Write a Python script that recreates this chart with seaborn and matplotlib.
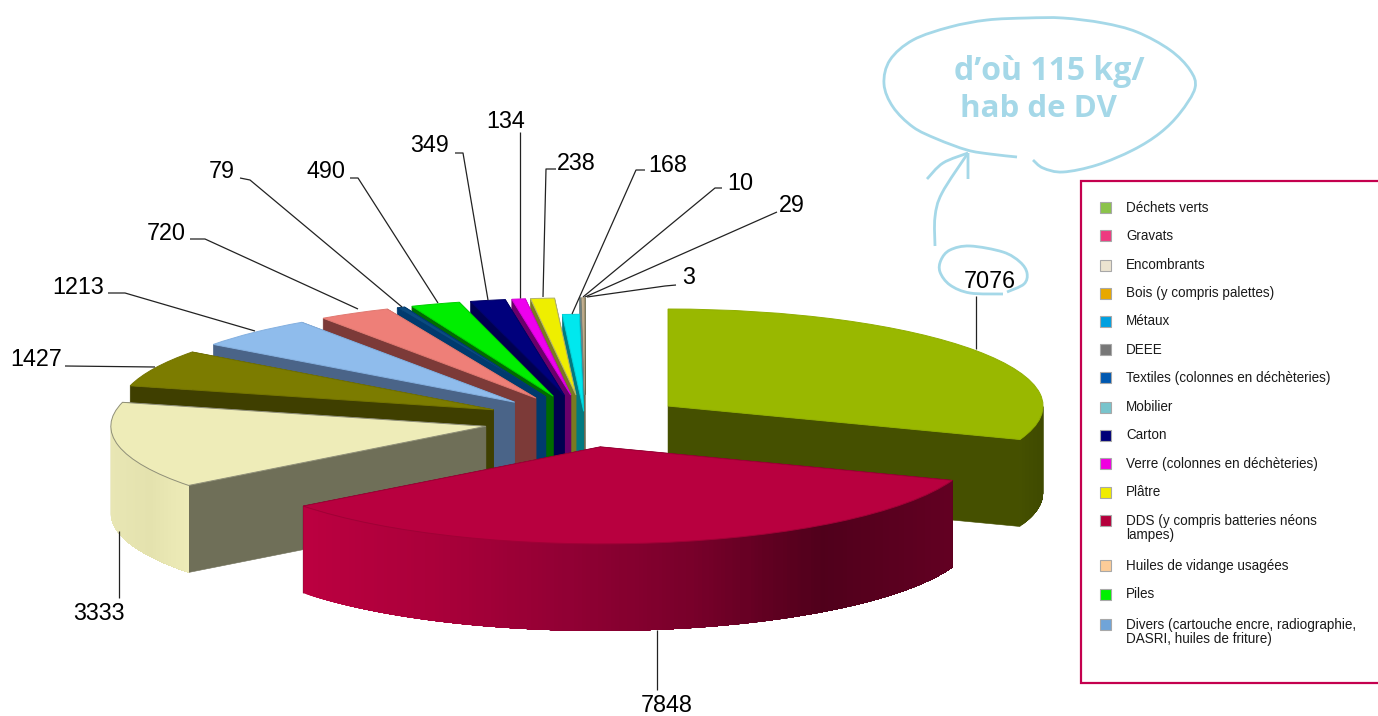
import numpy as np
import matplotlib
matplotlib.use("Agg")
import matplotlib.pyplot as plt
from matplotlib.patches import Polygon, Rectangle, PathPatch
from matplotlib.path import Path
import seaborn as sns

# ---- data ----
tonnages = [7076, 7848, 3333, 1427, 1213, 720, 79, 490, 349, 134, 238, 168, 10, 29, 3]
explode_fraction = [.27, .27, .27, .27, .27, .27, .27, .27, .27, .27, .27, .10, .27, .27, .27]
top_colors = ["#99b800", "#b8003f", "#eeecb8", "#7c7c00", "#8fbcec", "#ee7f78", "#0a4a80",
              "#00ee00", "#00007c", "#ee00ee", "#eeee00", "#00e8ee", "#90b0b0", "#c4b090", "#7a7a50"]
cut_colors = ["#455000", "#4a0018", "#6f6f58", "#3f3f00", "#4a6488", "#7c3a38", "#003a6e",
              "#006b00", "#000050", "#6a006a", "#7a7a20", "#007a80", "#506060", "#80704a", "#505030"]
edge_colors = ["#90ae00", "#a00036", "#8f8f78", "#747400", "#84b0e0", "#e07870", "#003a6e",
               "#00d000", "#000068", "#d800d8", "#b0b070", "#00d0d8", "#708080", "#a89878", "#606040"]
outer_ramps = {
    0: ["#455000", "#3f4a00"],
    1: ["#bb0040", "#aa003a", "#920034", "#78002a", "#50001b", "#620022"],
    2: ["#e8e6b4", "#e4e2ae", "#eeecb8"],
}
legend_labels = ["Déchets verts", "Gravats", "Encombrants", "Bois (y compris palettes)", "Métaux", "DEEE",
                 "Textiles (colonnes en déchèteries)", "Mobilier", "Carton", "Verre (colonnes en déchèteries)",
                 "Plâtre", "DDS (y compris batteries néons\nlampes)", "Huiles de vidange usagées", "Piles",
                 "Divers (cartouche encre, radiographie,\nDASRI, huiles de friture)"]
legend_colors = ["#8bc34a", "#ee3a80", "#ece4d0", "#e8a800", "#00a0e0", "#777777", "#0058b0", "#78c4cc",
                 "#000078", "#f000e0", "#f0ec00", "#b4003c", "#fccc98", "#00f000", "#70a4d8"]
bubble_line1 = "d’où 115 kg/"
bubble_line2 = "hab de DV"

# ---- layout ----
W, H = 1378, 716
CX, CY, RX, RY = 585.0, 421.0, 375.0, 97.0
DEPTH = 87.0 / RY

sns.set_theme(style="white")
plt.rcParams["font.family"] = ["Liberation Sans", "DejaVu Sans"]

fig = plt.figure(figsize=(W / 100, H / 100), dpi=100, facecolor="white")
ax = fig.add_axes([0, 0, 1, 1])
palette = sns.color_palette(top_colors)
wedges, _ = ax.pie(tonnages, explode=explode_fraction, colors=palette, startangle=90,
                   counterclock=False, radius=1, frame=False)
ax.set_aspect("auto")
ax.set_xlim(-CX / RX, (W - CX) / RX)
ax.set_ylim((CY - H) / RY, CY / RY)
ax.axis("off")

# painter's order: from the back clockwise-last slices, green and red at the front
order = list(range(len(tonnages) - 1, 1, -1)) + [0, 1]
for rank, i in enumerate(order):
    w = wedges[i]
    base = 10 + rank * 10
    cx, cy = w.center
    t1, t2 = w.theta1, w.theta2
    th = np.radians(np.linspace(t1, t2, 200))
    xs, ys = cx + w.r * np.cos(th), cy + w.r * np.sin(th)
    for t in (t1, t2):
        px, py = cx + w.r * np.cos(np.radians(t)), cy + w.r * np.sin(np.radians(t))
        ax.add_patch(Polygon([(cx, cy), (px, py), (px, py - DEPTH), (cx, cy - DEPTH)],
                             closed=True, fc=cut_colors[i], ec=cut_colors[i], lw=0.4, zorder=base))
    # outer rim where it faces the viewer: each step repaints the remainder, so no seams appear
    mask = np.sin(th) <= 0
    if mask.sum() > 1:
        xv, yv = xs[mask], ys[mask]
        if xv[0] > xv[-1]:
            xv, yv = xv[::-1], yv[::-1]
        ramp = outer_ramps.get(i, [cut_colors[i], cut_colors[i]])
        shades = sns.blend_palette(ramp, 140)
        lo, hi = xv.min(), xv.max()
        for k in range(0, len(xv) - 1):
            frac = (xv[k] - lo) / max(hi - lo, 1e-6)
            c = shades[int(np.clip(frac, 0, 0.999) * 140)]
            poly = list(zip(xv[k:], yv[k:])) + list(zip(xv[k:][::-1], yv[k:][::-1] - DEPTH))
            ax.add_patch(Polygon(poly, closed=True, fc=c, ec="none", zorder=base + 1))
    w.set_zorder(base + 2)
    w.set_edgecolor(edge_colors[i])
    w.set_linewidth(0.7)

# ---- overlay in pixel units for labels, legend and hand-drawn notes ----
ov = fig.add_axes([0, 0, 1, 1], facecolor="none", zorder=5)
ov.set_xlim(0, W)
ov.set_ylim(H, 0)
ov.axis("off")

label_pos = [(990, 281), (667, 705), (99, 614), (36, 359), (78, 287), (166, 233), (222, 172), (326, 172),
             (430, 146), (506, 121), (576, 163), (668, 165), (740, 183), (792, 205), (689, 278)]
leaders = [[(976, 296), (976, 349)], [(657, 630), (657, 690)], [(119, 531), (119, 598)],
           [(65, 366), (155, 367)], [(108, 293), (125, 293), (255, 331)], [(190, 239), (205, 239), (358, 309)],
           [(240, 178), (250, 180), (402, 307)], [(350, 178), (358, 178), (438, 303)],
           [(455, 153), (463, 153), (488, 300)], [(520, 132), (520, 298)],
           [(556, 169), (546, 169), (543, 297)], [(645, 170), (636, 170), (572, 314)],
           [(722, 188), (715, 188), (583, 297)], [(777, 212), (585, 297)], [(676, 285), (665, 286), (587, 297)]]
for v, (lx, ly), pts in zip(tonnages, label_pos, leaders):
    ov.text(lx, ly, str(v), ha="center", va="center", fontsize=16.8, color="black")
    p = np.array(pts)
    ov.plot(p[:, 0], p[:, 1], color="#222222", lw=0.9, solid_capstyle="butt")

# legend
ov.add_patch(Rectangle((1081, 181), 320, 502, fc="white", ec="#c4004e", lw=1.6, zorder=0))
marker_y = [207, 235, 265, 293, 321, 349, 377, 407, 435, 463, 492, 520, 565, 594, 624]
text_y = [208, 236, 265, 293, 321, 350, 378, 407, 435, 464, 492, 528, 566, 594, 632]
for lab, col, my, ty in zip(legend_labels, legend_colors, marker_y, text_y):
    ov.add_patch(Rectangle((1100, my - 5.5), 11, 11, fc=col, ec="#a8a8a8", lw=0.8))
    ov.text(1126, ty, lab, ha="left", va="center", fontsize=9.75, color="#1a1a1a", linespacing=0.98)


def smooth(points):
    pts = np.array(points, float)
    n = len(pts)
    verts, codes = [pts[0]], [Path.MOVETO]
    for k in range(n - 1):
        p0 = pts[max(k - 1, 0)]
        p1, p2 = pts[k], pts[k + 1]
        p3 = pts[min(k + 2, n - 1)]
        verts += [p1 + (p2 - p0) / 6, p2 - (p3 - p1) / 6, p2]
        codes += [Path.CURVE4] * 3
    return Path(verts, codes)


note_blue = "#a5d8e8"
strokes = [
    [(1017, 157), (990, 154), (967, 150), (937, 139), (913, 127), (893, 107), (884, 84), (890, 60), (913, 40),
     (950, 27), (987, 20), (1027, 18), (1063, 18), (1103, 23), (1137, 32), (1170, 50), (1190, 70), (1195, 88),
     (1180, 113), (1160, 133), (1133, 150), (1097, 165), (1063, 172), (1043, 168), (1033, 160)],
    [(935, 246), (935, 217), (942, 193), (968, 153)],
    [(927, 179), (943, 163), (968, 153)],
    [(968, 179), (968, 153)],
    [(1003, 294), (970, 293), (950, 285), (940, 272), (941, 260), (950, 250), (970, 246), (1003, 252), (1020, 262),
     (1027, 273), (1024, 284), (1007, 292)],
]
for s in strokes:
    ov.add_patch(PathPatch(smooth(s), fc="none", ec=note_blue, lw=2.0, capstyle="butt"))
ov.text(1049, 71, bubble_line1, ha="center", va="center", fontsize=23, fontweight="bold",
        family="Open Sans", color=note_blue)
ov.text(1038, 109, bubble_line2, ha="center", va="center", fontsize=22.5, fontweight="bold",
        family="Open Sans", color=note_blue)

fig.savefig("out.png", dpi=100)
